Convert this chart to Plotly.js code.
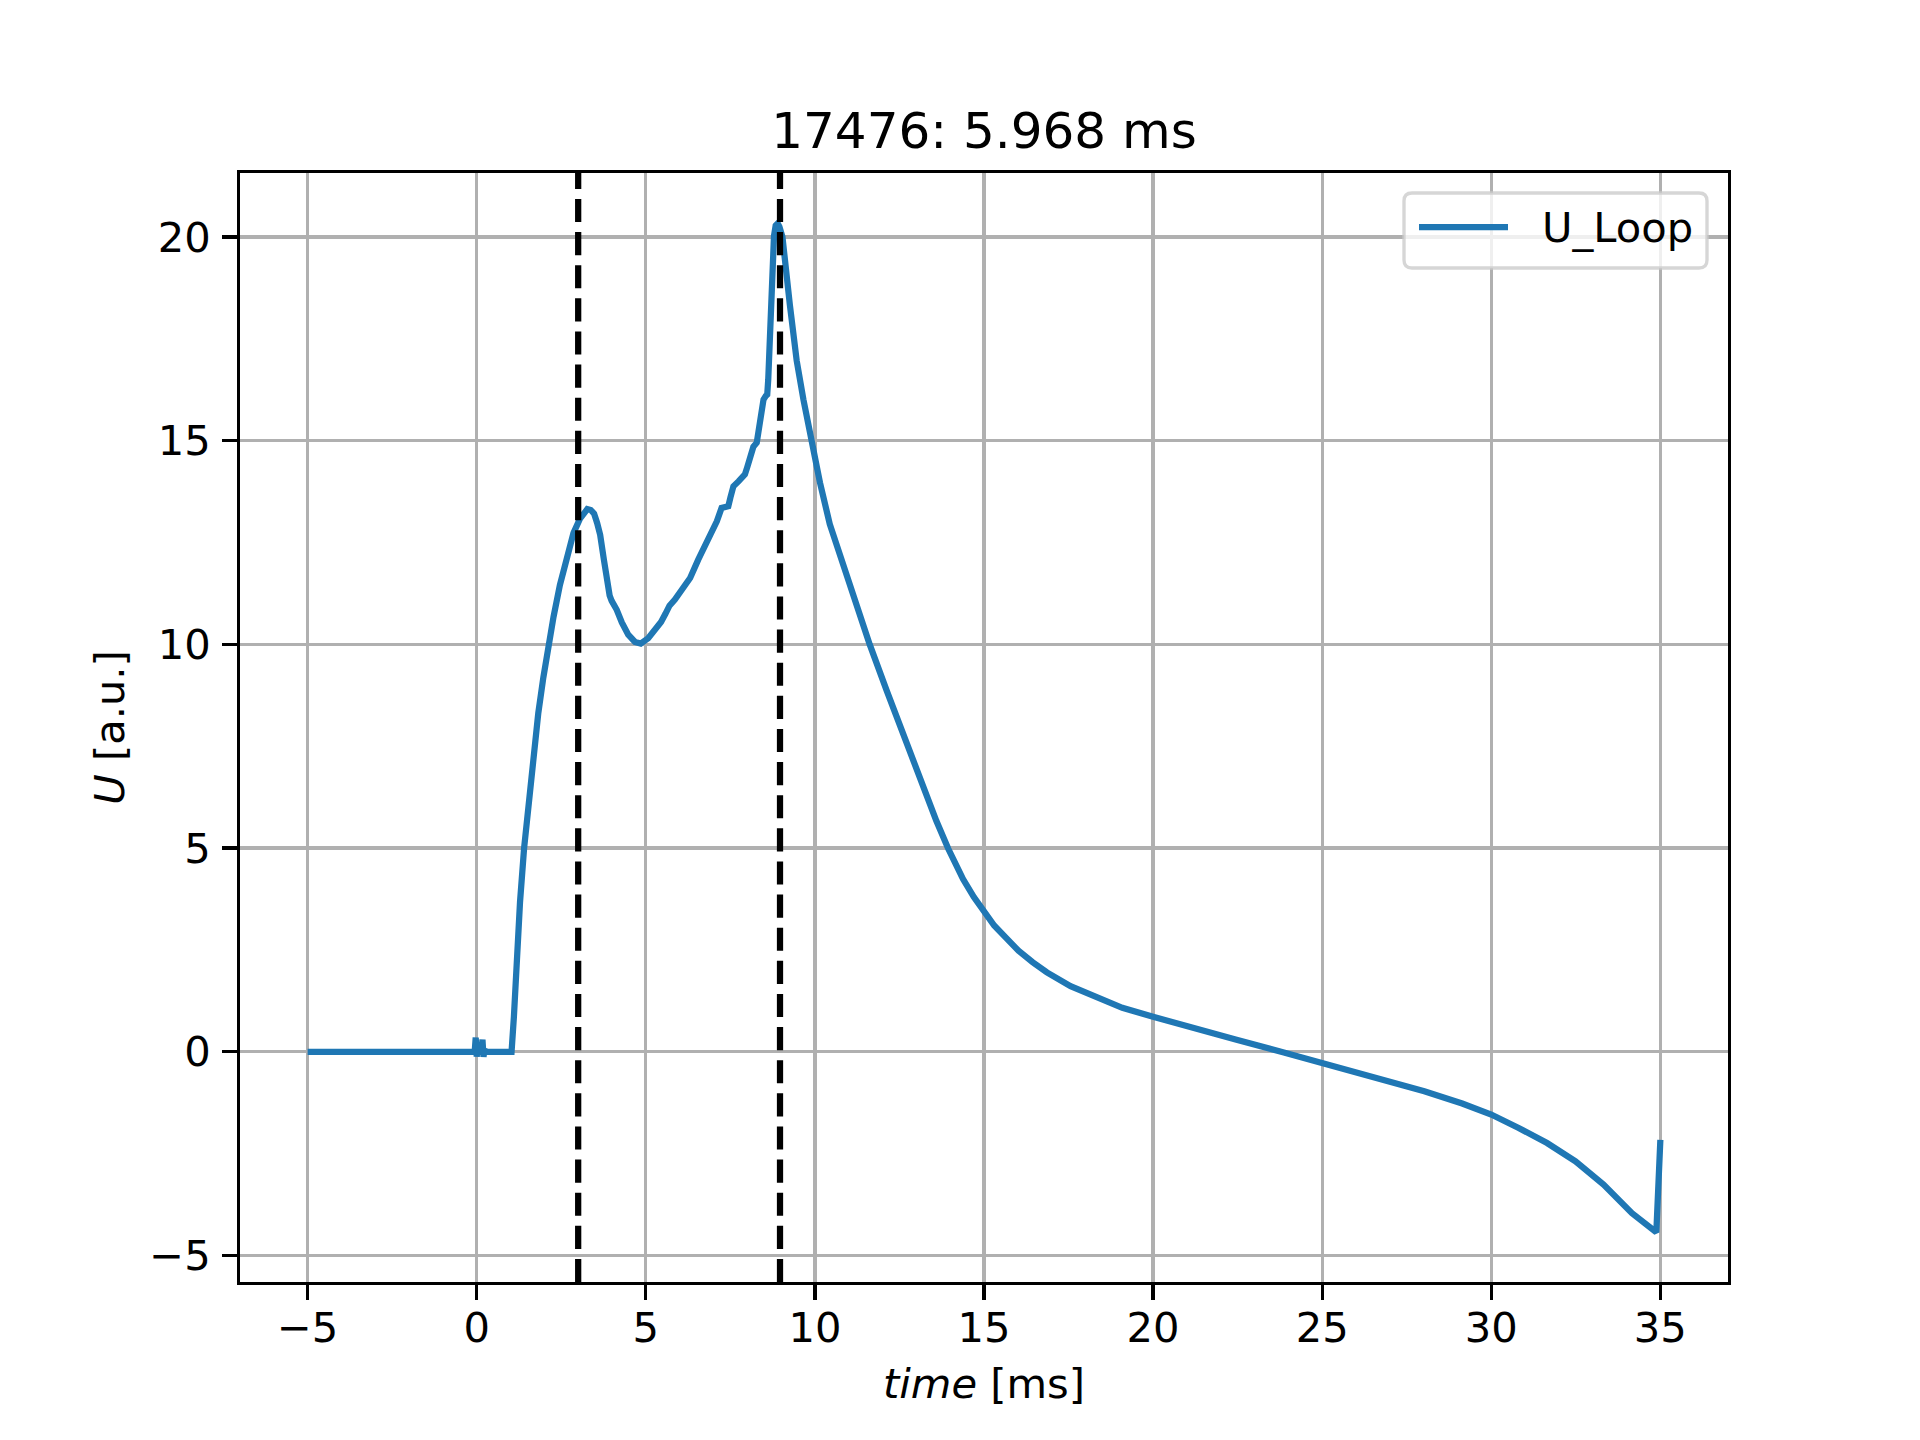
<!DOCTYPE html>
<html>
<head>
<meta charset="utf-8">
<script src="https://cdn.plot.ly/plotly-3.0.1.min.js"></script>
<style>
  html, body { margin: 0; padding: 0; background: #fff; }
  #chart { width: 1920px; height: 1440px; }
</style>
</head>
<body>
<div id="chart"></div>
<script>
// U_Loop signal, shot 17476
const timeMs = [
  -5.0, -2.5, -0.06, -0.03, 0.0, 0.03, 0.06, 0.14, 0.17, 0.2, 0.23, 0.27,
  1.03, 1.1, 1.18, 1.28, 1.4, 1.53, 1.67, 1.82, 1.97, 2.12, 2.27, 2.46,
  2.66, 2.86, 3.05, 3.17, 3.27, 3.37, 3.47, 3.56, 3.65, 3.76, 3.86, 3.93,
  3.99, 4.14, 4.29, 4.48, 4.68, 4.85, 5.07, 5.2, 5.32, 5.45, 5.58, 5.7,
  5.86, 6.11, 6.31, 6.55, 6.85, 7.1, 7.24, 7.44, 7.5, 7.59, 7.74, 7.83,
  7.93, 8.0, 8.08, 8.18, 8.28, 8.33, 8.38, 8.44, 8.48, 8.55, 8.59, 8.62,
  8.65, 8.72, 8.79, 8.84, 8.9, 8.95, 9.04, 9.26, 9.46, 9.66, 9.9, 10.15,
  10.44, 10.84, 11.23, 11.62, 12.12, 12.61, 13.1, 13.59, 13.94, 14.38, 14.7, 15.0,
  15.3, 15.66, 16.02, 16.44, 16.86, 17.56, 18.26, 19.09, 20.0, 21.05, 22.44, 23.84,
  25.0, 26.63, 28.02, 29.14, 30.0, 30.81, 31.65, 32.49, 33.32, 34.16, 34.88, 35.0
];
const uLoop = [
  0.0, 0.0, 0.0, 0.35, -0.12, 0.2, 0.0, 0.0, 0.3, -0.12, 0.05, 0.0,
  0.0, 0.87, 2.18, 3.67, 4.99, 6.12, 7.26, 8.31, 9.19, 10.0, 10.67, 11.46,
  12.16, 12.73, 13.08, 13.25, 13.32, 13.3, 13.21, 12.98, 12.69, 12.08, 11.46, 11.2,
  11.07, 10.85, 10.54, 10.24, 10.06, 10.02, 10.15, 10.27, 10.41, 10.55, 10.75, 10.95,
  11.1, 11.39, 11.63, 12.08, 12.57, 13.02, 13.35, 13.39, 13.6, 13.88, 14.0, 14.1,
  14.17, 14.35, 14.62, 14.85, 14.95, 15.2, 15.6, 15.85, 16.01, 16.1, 16.13, 16.5,
  17.24, 18.88, 20.02, 20.28, 20.33, 20.25, 20.0, 18.33, 16.97, 16.01, 15.0, 13.97,
  12.95, 11.93, 10.98, 10.0, 8.87, 7.78, 6.69, 5.67, 4.99, 4.24, 3.8, 3.43,
  3.1, 2.79, 2.48, 2.2, 1.95, 1.61, 1.37, 1.08, 0.86, 0.61, 0.3, -0.01,
  -0.27, -0.62, -0.97, -1.27, -1.54, -1.87, -2.24, -2.69, -3.26, -3.96, -4.43, -2.16
];

// window markers (ms), 8.968 - 3.0 = 5.968
const markerTimes = [3.0, 8.968];
const shotNo = 17476;
const seriesName = "U_Loop";

const FONT = "DejaVu Sans, sans-serif";
const PT = 300 / 72; // matplotlib points -> px at 300 dpi
const BLUE = "#1f77b4";

// plot area in px (matplotlib default axes box)
const PX = { l: 240, r: 1728, t: 173, b: 1282 };
const px2x = (X) => (X - PX.l) / (PX.r - PX.l);
const px2y = (Y) => 1 - (Y - PX.t) / (PX.b - PX.t);

var trace = {
  x: timeMs,
  y: uLoop,
  mode: "lines",
  type: "scatter",
  name: seriesName,
  showlegend: false,
  line: { color: BLUE, width: 1.5 * PT },
};

var shapes = markerTimes.map((t) => ({
  type: "line",
  xref: "x",
  yref: "paper",
  x0: t,
  x1: t,
  y0: 0,
  y1: 1,
  layer: "above",
  line: { color: "black", width: 1.5 * PT, dash: (5.55 * PT) + "px," + (2.4 * PT) + "px" },
}));

// legend box drawn like matplotlib's (rounded frame, 0.8 alpha)
function roundedBox(X0, Y0, X1, Y1, r) {
  var x0 = px2x(X0), x1 = px2x(X1), yT = px2y(Y0), yB = px2y(Y1);
  var rx = r / (PX.r - PX.l), ry = r / (PX.b - PX.t);
  return "M" + (x0 + rx) + "," + yT +
    " L" + (x1 - rx) + "," + yT + " Q" + x1 + "," + yT + " " + x1 + "," + (yT - ry) +
    " L" + x1 + "," + (yB + ry) + " Q" + x1 + "," + yB + " " + (x1 - rx) + "," + yB +
    " L" + (x0 + rx) + "," + yB + " Q" + x0 + "," + yB + " " + x0 + "," + (yB + ry) +
    " L" + x0 + "," + (yT - ry) + " Q" + x0 + "," + yT + " " + (x0 + rx) + "," + yT + " Z";
}

shapes.push({
  type: "path",
  xref: "paper",
  yref: "paper",
  path: roundedBox(1404, 193, 1707, 268, 8),
  fillcolor: "rgba(255,255,255,0.8)",
  line: { color: "rgba(204,204,204,0.8)", width: 0.8 * PT },
  layer: "above",
});
shapes.push({
  type: "line",
  xref: "paper",
  yref: "paper",
  x0: px2x(1419),
  x1: px2x(1508),
  y0: px2y(227),
  y1: px2y(227),
  line: { color: BLUE, width: 1.5 * PT },
  layer: "above",
});

var dt = markerTimes[1] - markerTimes[0];

var axisCommon = {
  showline: true,
  mirror: true,
  linecolor: "black",
  linewidth: 0.8 * PT,
  showgrid: true,
  gridcolor: "#b0b0b0",
  gridwidth: 0.8 * PT,
  zeroline: false,
  ticks: "outside",
  ticklen: 3.5 * PT,
  tickwidth: 0.8 * PT,
  tickcolor: "black",
  tickfont: { family: FONT, size: 10 * PT, color: "black" },
  dtick: 5,
  tick0: 0,
};

var layout = {
  width: 1920,
  height: 1440,
  paper_bgcolor: "white",
  plot_bgcolor: "white",
  margin: { l: PX.l, r: 1920 - PX.r, t: PX.t, b: 1440 - PX.b },
  showlegend: false,
  title: {
    text: shotNo + ": " + dt.toFixed(3) + " ms",
    font: { family: FONT, size: 12 * PT, color: "black" },
    xref: "paper",
    x: 0.5,
    yref: "container",
    y: 1 - 130 / 1440,
    yanchor: "middle",
  },
  xaxis: Object.assign({}, axisCommon, {
    range: [-7, 37],
    ticklabelstandoff: -8,
    title: {
      text: "<i>time</i> [ms]",
      font: { family: FONT, size: 10 * PT, color: "black" },
      standoff: 19,
    },
  }),
  yaxis: Object.assign({}, axisCommon, {
    range: [-5.65, 21.57],
    ticklabelstandoff: 3,
    title: {
      text: "<i>U</i> [a.u.]",
      font: { family: FONT, size: 10 * PT, color: "black" },
      standoff: 12,
    },
  }),
  annotations: [{
    text: seriesName,
    xref: "paper",
    yref: "paper",
    x: px2x(1540),
    y: px2y(227),
    xanchor: "left",
    yanchor: "middle",
    showarrow: false,
    font: { family: FONT, size: 10 * PT, color: "black" },
  }],
  shapes: shapes,
};

Plotly.newPlot("chart", [trace], layout, { displayModeBar: false, staticPlot: true });
</script>
</body>
</html>
